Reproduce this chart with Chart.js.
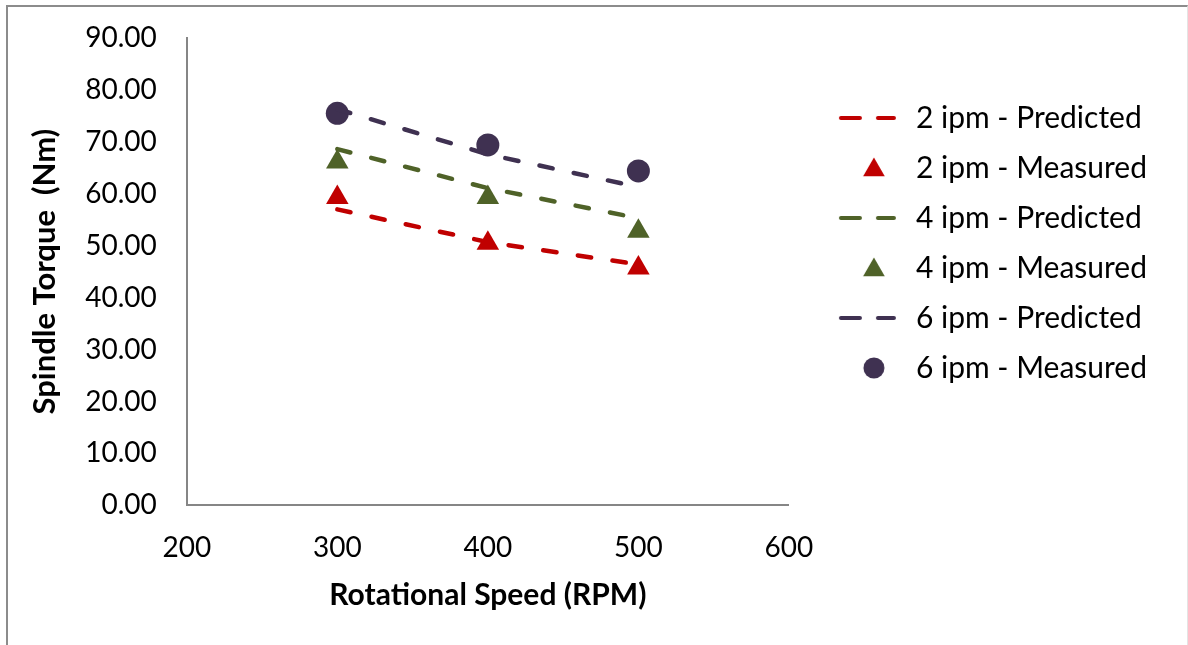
<!DOCTYPE html>
<html>
<head>
<meta charset="utf-8">
<title>Spindle Torque vs Rotational Speed</title>
<script src="https://cdn.jsdelivr.net/npm/chart.js@4.4.1/dist/chart.umd.min.js"></script>
<style>
    html, body { margin: 0; padding: 0; background: #fff; }
    #frame {
        position: absolute; left: 6px; top: 5px; width: 1182px; height: 645px;
        border-top: 2px solid #8c8c8c; border-left: 2px solid #8c8c8c; border-right: 1px solid #e4e4e4;
        box-sizing: border-box;
    }
    #wrap { position: absolute; left: 0; top: 0; width: 1188px; height: 645px; }
</style>
</head>
<body>
<div id="frame"></div>
<div id="wrap"><canvas id="torqueChart"></canvas></div>
<script>
// values
const rpm = [300, 400, 500];
const predicted2 = [57.0, 50.7, 46.4];
const measured2 = [59.3, 50.5, 45.7];
const predicted4 = [68.6, 61.1, 55.3];
const measured4 = [66.1, 59.3, 52.8];
const predicted6 = [76.3, 67.6, 61.3];
const measured6 = [75.5, 69.4, 64.4];
const seriesLabels = ['2 ipm - Predicted', '2 ipm - Measured', '4 ipm - Predicted',
    '4 ipm - Measured', '6 ipm - Predicted', '6 ipm - Measured'];
const xRange = [200, 600];
const yRange = [0, 90];

const RED = '#c00000';
const GREEN = '#4f6228';
const PURPLE = '#3f3151';
const AXIS_GREY = '#868686';
const FONT = 'Lato, "Open Sans", sans-serif';
const X_TICK_PAD = 26;
const Y_TICK_PAD = 30;

function toPoints(values) {
    return values.map((v, i) => ({x: rpm[i], y: v}));
}

function predictedSet(label, values, color) {
    return {
        label: label,
        data: toPoints(values),
        showLine: true,
        borderColor: color,
        backgroundColor: color,
        borderWidth: 4.5,
        borderDash: [13.5, 21.5],
        borderCapStyle: 'round',
        pointRadius: 0,
        pointHoverRadius: 0,
        fill: false,
        tension: 0,
        isPredicted: true
    };
}

function measuredSet(label, values, color, style, radius) {
    return {
        label: label,
        data: toPoints(values),
        showLine: false,
        borderColor: color,
        backgroundColor: color,
        borderWidth: 0,
        pointStyle: style,
        pointRadius: radius,
        pointHoverRadius: radius,
        isPredicted: false
    };
}

/**
 * legend key pictures; the marker keys use the library's own point helper
 */
function legendIcon(ds) {
    const c = document.createElement('canvas');
    const ctx = c.getContext('2d');
    c.width = 92;
    if (ds.isPredicted) {
        c.height = 10;
        ctx.strokeStyle = ds.borderColor;
        ctx.lineWidth = 4;
        ctx.lineCap = 'round';
        ctx.setLineDash([19, 18]);
        ctx.beginPath();
        ctx.moveTo(32, 5);
        ctx.lineTo(85, 5);
        ctx.stroke();
    } else {
        c.height = 28;
        ctx.fillStyle = ds.backgroundColor;
        const r = ds.pointStyle === 'circle' ? 10.5 : 12.5;
        const cy = ds.pointStyle === 'circle' ? 14 : 16;
        Chart.helpers.drawPoint(ctx, {pointStyle: ds.pointStyle, radius: r, borderWidth: 0, rotation: 0}, 65, cy);
    }
    return c;
}

function initializeChart() {
    const datasets = [
        predictedSet(seriesLabels[0], predicted2, RED),
        measuredSet(seriesLabels[1], measured2, RED, 'triangle', 13),
        predictedSet(seriesLabels[2], predicted4, GREEN),
        measuredSet(seriesLabels[3], measured4, GREEN, 'triangle', 13),
        predictedSet(seriesLabels[4], predicted6, PURPLE),
        measuredSet(seriesLabels[5], measured6, PURPLE, 'circle', 11.5)
    ];

    new Chart(document.querySelector('#torqueChart'), {
        type: 'scatter',
        data: {datasets: datasets},
        options: {
            responsive: true,
            maintainAspectRatio: false,
            animation: false,
            layout: {
                padding: {left: 8, top: 38, right: 31, bottom: 32}
            },
            scales: {
                x: {
                    type: 'linear',
                    min: xRange[0],
                    max: xRange[1],
                    ticks: {
                        stepSize: 100,
                        color: '#000',
                        padding: X_TICK_PAD,
                        font: {family: FONT, size: 28}
                    },
                    grid: {display: false, drawTicks: false},
                    border: {display: true, color: AXIS_GREY, width: 2},
                    title: {
                        display: true,
                        text: 'Rotational Speed (RPM)',
                        color: '#000',
                        font: {family: FONT, size: 30, weight: 'bold'},
                        padding: {top: 12, bottom: 0}
                    },
                    afterFit: (scale) => {
                        scale.height -= X_TICK_PAD;
                    }
                },
                y: {
                    min: yRange[0],
                    max: yRange[1],
                    ticks: {
                        stepSize: 10,
                        color: '#000',
                        padding: Y_TICK_PAD,
                        font: {family: FONT, size: 28},
                        callback: (value) => Number(value).toFixed(2)
                    },
                    grid: {display: false, drawTicks: false},
                    border: {display: true, color: AXIS_GREY, width: 2},
                    title: {
                        display: true,
                        text: 'Spindle Torque  (Nm)',
                        color: '#000',
                        font: {family: FONT, size: 31, weight: 'bold'},
                        padding: {top: 18, bottom: 22}
                    },
                    afterFit: (scale) => {
                        scale.width -= Y_TICK_PAD;
                        scale.paddingTop = 0;
                    }
                }
            },
            plugins: {
                tooltip: {enabled: false},
                legend: {
                    display: true,
                    position: 'right',
                    align: 'start',
                    maxWidth: 440,
                    title: {
                        display: true,
                        text: '',
                        font: {size: 10},
                        padding: {top: 33, bottom: 0}
                    },
                    labels: {
                        color: '#000',
                        font: {family: FONT, size: 30},
                        padding: 20,
                        usePointStyle: true,
                        pointStyleWidth: 92,
                        boxHeight: 30,
                        generateLabels: (chart) => chart.data.datasets.map((ds, i) => ({
                            text: ds.label,
                            fillStyle: ds.backgroundColor,
                            strokeStyle: ds.borderColor,
                            fontColor: '#000',
                            lineWidth: 0,
                            pointStyle: legendIcon(ds),
                            datasetIndex: i,
                            hidden: false
                        }))
                    }
                }
            }
        }
    });
}

document.addEventListener('DOMContentLoaded', () => {
    initializeChart();
});
</script>
</body>
</html>
